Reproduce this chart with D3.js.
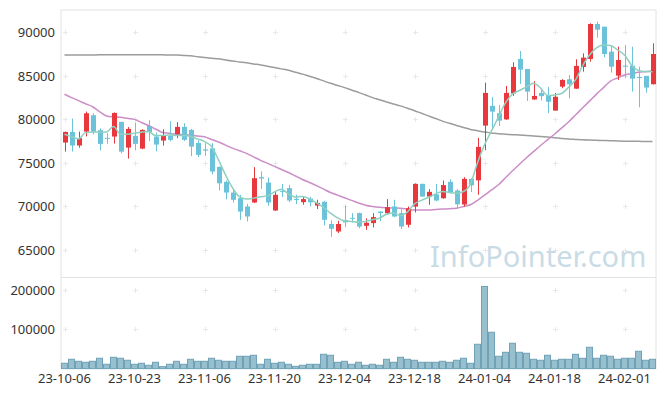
<!DOCTYPE html>
<html><head><meta charset="utf-8">
<script src="https://cdn.jsdelivr.net/npm/d3@7"></script>
<style>body{margin:0;background:#fff}svg{display:block}text{font-family:"Noto Sans",sans-serif}</style>
</head><body><svg id="c" width="665" height="396"></svg>
<script>
const dates = ["23-10-06","23-10-10","23-10-11","23-10-12","23-10-13","23-10-16","23-10-17","23-10-18","23-10-19","23-10-20",
"23-10-23","23-10-24","23-10-25","23-10-26","23-10-27","23-10-30","23-10-31","23-11-01","23-11-02","23-11-03",
"23-11-06","23-11-07","23-11-08","23-11-09","23-11-10","23-11-13","23-11-14","23-11-15","23-11-16","23-11-17",
"23-11-20","23-11-21","23-11-22","23-11-23","23-11-24","23-11-27","23-11-28","23-11-29","23-11-30","23-12-01",
"23-12-04","23-12-05","23-12-06","23-12-07","23-12-08","23-12-11","23-12-12","23-12-13","23-12-14","23-12-15",
"23-12-18","23-12-19","23-12-20","23-12-21","23-12-22","23-12-26","23-12-27","23-12-28","24-01-02","24-01-03",
"24-01-04","24-01-05","24-01-08","24-01-09","24-01-10","24-01-11","24-01-12","24-01-15","24-01-16","24-01-17",
"24-01-18","24-01-19","24-01-22","24-01-23","24-01-24","24-01-25","24-01-26","24-01-29","24-01-30","24-01-31",
"24-02-01","24-02-02","24-02-05","24-02-06","24-02-07"];
const open  = [77340,78560,77000,78600,80480,78760,77880,78030,79710,76760,78110,76650,79250,78030,77570,78110,78300,79140,78790,77300,
76560,76670,74550,72830,71600,70960,70000,70460,73370,72750,69540,71800,72110,70880,70500,70910,70100,70540,67990,67130,
68440,68700,69240,67780,68090,69420,69220,70000,69240,67900,70000,72600,71140,71400,70940,72830,71830,70230,73170,73000,
79290,81550,80710,80000,82980,86940,85790,82290,83040,82810,81010,83760,84610,83530,86020,86940,90950,90640,87780,85020,
86170,86170,84870,84990,84040];
const close = [78560,77000,77850,80700,78600,77190,77800,80740,76300,78910,77190,78790,78530,77110,78110,77650,79140,77650,76880,75930,
76420,74010,72660,71600,70770,69420,68850,73250,73210,70460,71340,71680,70690,70750,70850,70480,70420,68470,67440,67990,
68180,68640,67700,68130,68780,69240,69930,68850,67700,69810,72600,71140,71680,70690,72460,71600,70250,73170,72430,76840,
83040,80890,79860,83040,86020,85710,83190,82690,82670,82030,82600,84530,84040,86140,87090,90950,90300,87510,86050,86820,
86050,84680,84790,83650,87510];
const high  = [78600,80100,78600,80900,80700,78970,78420,80800,79750,79120,79630,78870,79900,78500,78870,79790,79680,79560,78910,77590,
77270,77270,74600,73000,71910,71340,70300,74520,74030,73320,71650,72600,72490,71340,71170,71110,70770,70650,68410,68360,
70080,69240,69300,68640,69240,69450,70850,70770,69700,70000,72650,72620,71990,72600,72980,73120,71990,73370,73250,77880,
84220,82580,81660,83840,86560,87860,85800,84380,83550,83730,83040,84610,85100,86900,87590,91030,91220,90650,88540,88350,
88540,88350,86050,85000,88740];
const low   = [76300,76300,76750,78050,78280,76450,77190,77220,76100,75500,76450,76580,77500,76330,77000,77470,77840,77530,75780,75660,
75810,73690,71850,70820,70460,68470,68280,70400,72030,70080,69500,71100,70500,70270,70200,70000,69700,67820,66520,66950,
67610,68160,67500,67320,67600,68300,69050,68780,67400,67590,69310,71100,70190,70590,70900,71500,69810,70000,71650,71340,
76470,78790,79250,79950,82700,84070,82120,82240,82180,80710,81000,83580,82430,83500,85480,86630,89380,87130,85370,84530,
84790,83190,81400,83070,84000];
const volume = [13600,23700,18600,16100,18600,26300,11000,28800,26300,21200,11000,13600,8500,16100,5000,11000,18600,11000,23700,18600,
18600,26300,21200,18600,18600,31400,31400,33900,11000,23700,13600,16100,11000,5900,8500,11000,11000,36400,33900,16100,
18600,11000,16100,8500,11000,8500,23700,16100,28800,23700,21200,16100,16100,16100,18600,16100,21200,26300,13600,61900,
209000,92400,31400,41500,64400,41500,39000,23700,21200,33900,21200,23700,23700,36400,26300,54200,26300,33900,31400,23700,
26300,26300,44100,21200,23700];
const ma5 = [78300,78025,77760,78480,78560,78530,78560,79170,78300,78300,78415,78530,78600,78140,78140,78220,78160,78140,78025,77760,
77450,76880,75350,73630,72140,71110,70850,70960,71110,71220,71680,71970,71450,71070,71140,70880,70420,69900,69240,68700,
68360,68280,68180,68280,68470,68670,69100,69240,68930,69390,70300,70710,71050,71450,71720,71600,71530,71720,72600,75010,
77070,78680,80290,81890,82920,83320,83730,84150,83610,82750,82810,82980,83690,84530,86130,87400,88200,88540,88490,87970,
87400,86250,85620,85500,85480];
const ma20 = [82890,82500,82150,81800,81450,80900,80400,80300,80250,80120,80000,79650,79300,78900,78500,78400,78300,78250,78200,78100,
78000,77700,77400,77050,76700,76400,76100,75700,75300,74950,74600,74250,73900,73500,73100,72750,72400,72000,71600,71300,
71000,70700,70400,70150,70000,69900,69850,69820,69800,69700,69600,69600,69600,69650,69700,69750,69800,70000,70200,70700,
71300,71900,72500,73300,74100,74850,75600,76300,77000,77650,78300,79000,79700,80500,81300,82100,82900,83650,84400,84750,
85100,85250,85400,85480,85560];
const ma60 = [87400,87400,87400,87400,87400,87410,87410,87420,87420,87430,87430,87430,87430,87420,87410,87400,87400,87350,87300,87200,
87100,87020,86950,86820,86700,86600,86500,86370,86250,86100,85950,85800,85650,85420,85200,84950,84700,84420,84150,83900,
83650,83370,83100,82800,82500,82250,82000,81770,81550,81270,81000,80700,80400,80100,79800,79550,79300,79070,78850,78700,
78550,78450,78350,78300,78250,78200,78150,78090,78030,77970,77900,77820,77750,77700,77650,77620,77600,77570,77550,77520,
77500,77490,77480,77460,77450];
const priceTicks = [65000,70000,75000,80000,85000,90000];
const volTicks = [100000,200000];
const xTickLabels = ["23-10-06","23-10-23","23-11-06","23-11-20","23-12-04","23-12-18","24-01-04","24-01-18","24-02-01"];

const svg = d3.select("#c");
const L = 61, R = 656, T = 10, MID = 278, B = 368.6;
const x = d3.scaleBand().domain(dates).range([L, R]).padding(0);
const bw = x.bandwidth();
const cx = d => x(d) + bw / 2;
const y = d3.scaleLinear().domain([61790, 92560]).range([MID, T]);
const yv = d3.scaleLinear().domain([0, 233000]).range([B, 277]);

const grid = "#e2e2e2";
svg.append("rect").attr("x", L).attr("y", T).attr("width", R - L).attr("height", B - T)
  .attr("fill", "none").attr("stroke", grid);
svg.append("line").attr("x1", L).attr("x2", R).attr("y1", 277.5).attr("y2", 277.5).attr("stroke", grid);

const plus = (px, py) => {
  svg.append("path").attr("d", `M${px - 2.5},${py}H${px + 2.5}M${px},${py - 2.5}V${py + 2.5}`)
    .attr("stroke", "#e8e8e8").attr("stroke-width", 1);
};
xTickLabels.forEach(t => {
  priceTicks.forEach(v => plus(Math.round(cx(t)) + 0.5, Math.round(y(v)) + 0.5));
  volTicks.forEach(v => plus(Math.round(cx(t)) + 0.5, Math.round(yv(v)) + 0.5));
});

const yAxis = d3.axisLeft(y).tickValues(priceTicks).tickSize(0).tickPadding(6).tickFormat(d3.format("d"));
const ga = svg.append("g").attr("transform", `translate(${L},0)`).call(yAxis);
const yvAxis = d3.axisLeft(yv).tickValues(volTicks).tickSize(0).tickPadding(6).tickFormat(d3.format("d"));
const gv = svg.append("g").attr("transform", `translate(${L},0)`).call(yvAxis);
const xAxis = d3.axisBottom(x).tickValues(xTickLabels).tickSize(0).tickPadding(5);
const gx = svg.append("g").attr("transform", `translate(0,${B})`).call(xAxis);
[ga, gv, gx].forEach(g => {
  g.select(".domain").remove();
  g.selectAll("text").attr("fill", "#333").attr("font-size", 13).attr("font-family", '"Noto Sans",sans-serif');
});

svg.append("text").attr("x", 430).attr("y", 267).text("InfoPointer.com")
  .attr("font-size", 29).attr("fill", "#c9dbe5");

const line = arr => d3.line().x((v, i) => cx(dates[i])).y(v => y(v)).curve(d3.curveMonotoneX)(arr);
svg.append("path").attr("d", line(ma60)).attr("fill", "none").attr("stroke", "#9c9c9c").attr("stroke-width", 1.5);
svg.append("path").attr("d", line(ma20)).attr("fill", "none").attr("stroke", "#cc8ec6").attr("stroke-width", 1.5);

const up = "#e8373d", dn = "#6cc2d8";
const cg = svg.append("g");
dates.forEach((d, i) => {
  const col = close[i] >= open[i] ? up : dn;
  const xc = Math.round(cx(d)) + 0.5;
  cg.append("line").attr("x1", xc).attr("x2", xc).attr("y1", y(high[i])).attr("y2", y(low[i]))
    .attr("stroke", col).attr("stroke-width", 1);
  const top = y(Math.max(open[i], close[i])), bot = y(Math.min(open[i], close[i]));
  cg.append("rect").attr("x", xc - 2.5).attr("y", top).attr("width", 5).attr("height", Math.max(1, bot - top))
    .attr("fill", col);
});
svg.append("path").attr("d", line(ma5)).attr("fill", "none").attr("stroke", "#8fd0c0").attr("stroke-width", 1.5);

svg.append("g").selectAll("rect").data(volume).join("rect")
  .attr("x", (v, i) => x(dates[i]) + 0.5).attr("width", bw - 1)
  .attr("y", v => yv(v)).attr("height", v => B - yv(v))
  .attr("fill", "#97bfce").attr("stroke", "#6fa2b6").attr("stroke-width", 1);
</script></body></html>
